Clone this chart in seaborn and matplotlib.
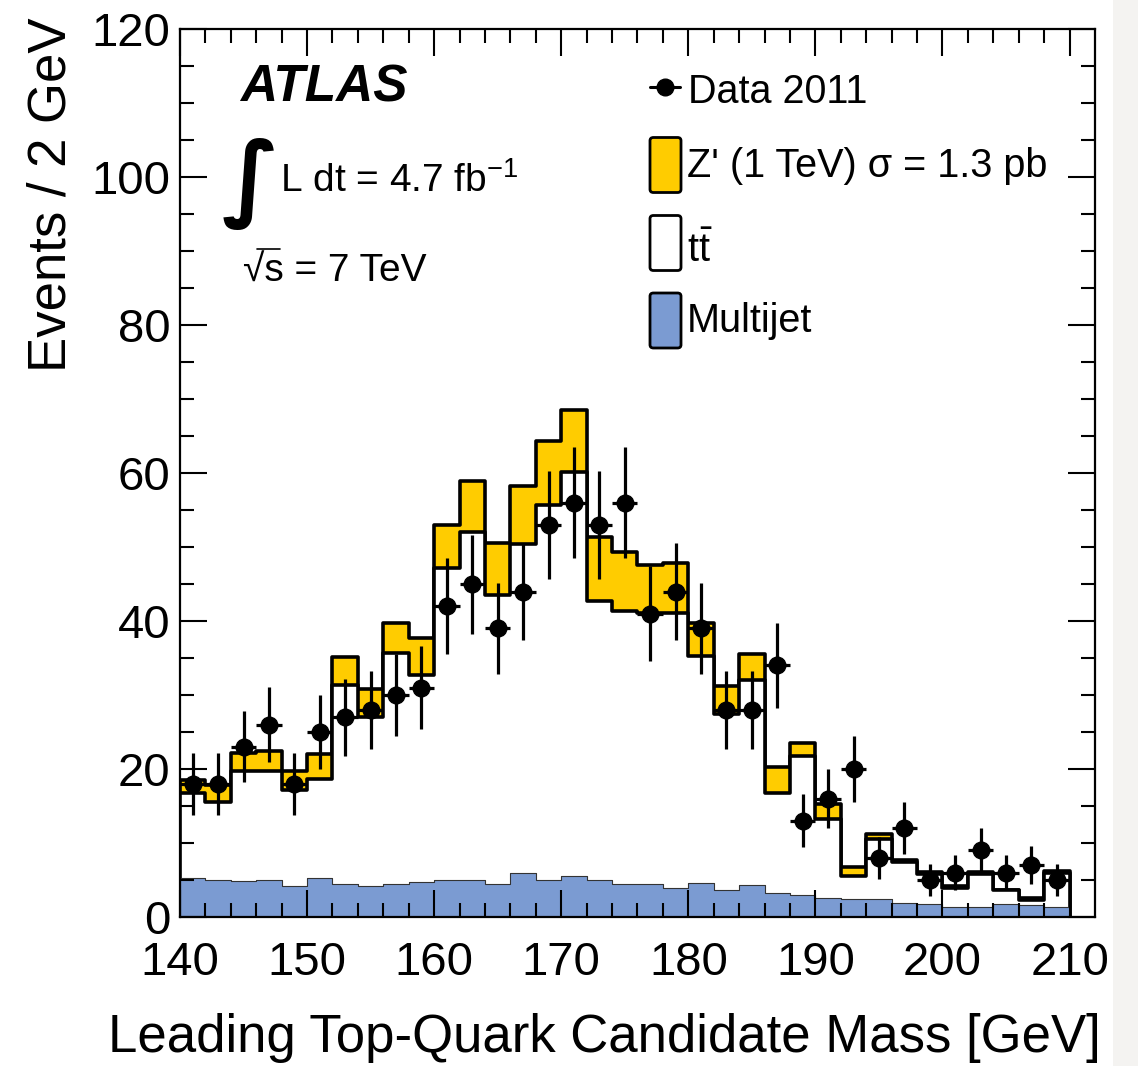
import numpy as np
import pandas as pd
import matplotlib
matplotlib.use("Agg")
import matplotlib.pyplot as plt
from matplotlib.patches import FancyBboxPatch, Rectangle
from matplotlib.lines import Line2D
import seaborn as sns

W, H = 1138, 1066

# bin edges of the 2 GeV histogram (140-210 GeV)
bin_edges = np.arange(140, 212, 2)
bin_centers = bin_edges[:-1] + 1

# stacked MC components (events per bin)
multijet = [5.3, 5.0, 4.9, 5.0, 4.2, 5.3, 4.4, 4.2, 4.5, 4.7,
            5.0, 5.0, 4.5, 5.9, 5.0, 5.6, 5.0, 4.5, 4.4, 3.9,
            4.6, 3.7, 4.3, 3.3, 3.0, 2.6, 2.4, 2.4, 1.9, 1.7,
            1.4, 1.4, 1.7, 1.6, 1.3]
ttbar = [11.5, 10.6, 14.8, 14.7, 13.0, 13.4, 26.9, 22.9, 31.2, 28.0,
         42.2, 47.0, 39.0, 44.5, 50.7, 54.5, 37.7, 36.8, 36.7, 37.2,
         30.7, 23.7, 27.8, 13.4, 18.8, 10.7, 3.2, 8.1, 5.6, 4.1,
         2.5, 4.4, 1.9, 0.7, 4.7]
zprime = [1.7, 2.2, 2.5, 2.7, 2.5, 3.4, 3.8, 3.7, 4.0, 5.0,
          5.8, 6.9, 7.0, 7.9, 8.7, 8.4, 8.7, 8.1, 6.5, 6.7,
          4.5, 3.8, 3.5, 3.6, 1.7, 2.0, 1.2, 0.7, 0.2, 0.3,
          0.3, 0.25, 0.1, 0.3, 0.2]

# data 2011 with statistical errors
data = [18, 18, 23, 26, 18, 25, 27, 28, 30, 31,
        42, 45, 39, 44, 53, 56, 53, 56, 41, 44,
        39, 28, 28, 34, 13, 16, 20, 8, 12, 5,
        6, 9, 6, 7, 5]
data_err = [4.2, 4.2, 4.8, 5.1, 4.2, 5.0, 5.2, 5.3, 5.5, 5.6,
            6.5, 6.7, 6.2, 6.6, 7.3, 7.5, 7.3, 7.5, 6.4, 6.6,
            6.2, 5.3, 5.3, 5.8, 3.6, 4.0, 4.5, 2.8, 3.5, 2.2,
            2.4, 3.0, 2.4, 2.6, 2.2]

YELLOW = "#ffcc00"
BLUE = "#7b9bd2"

sns.set_theme(style="ticks")
plt.rcParams["font.family"] = ["Liberation Sans", "DejaVu Sans"]
plt.rcParams["mathtext.fontset"] = "custom"
plt.rcParams["mathtext.rm"] = "Liberation Sans"
plt.rcParams["mathtext.it"] = "Liberation Sans:italic"
for key in ["text.color", "axes.labelcolor", "axes.edgecolor",
            "xtick.color", "ytick.color"]:
    plt.rcParams[key] = "black"

df = pd.DataFrame({"mass": bin_centers,
                   "multijet": multijet, "ttbar": ttbar, "zprime": zprime})
df["tt_stack"] = df["multijet"] + df["ttbar"]
df["total"] = df["tt_stack"] + df["zprime"]

fig = plt.figure(figsize=(W / 100, H / 100), dpi=100)
ax = fig.add_axes([180 / W, 1 - 917 / H, (1095 - 180) / W, (917 - 29.3) / H])

# stack drawn back to front: total (Z'), ttbar + multijet, multijet
hist_kws = dict(data=df, x="mass", binwidth=2, binrange=(140, 210),
                element="step", fill=True, alpha=1, ax=ax)
sns.histplot(weights="total", color=YELLOW, edgecolor="black", linewidth=2.6, **hist_kws)
sns.histplot(weights="tt_stack", color="white", edgecolor="black", linewidth=2.6, **hist_kws)
sns.histplot(weights="multijet", color=BLUE, edgecolor="#333333", linewidth=0.8, **hist_kws)

ax.errorbar(df["mass"], data, yerr=data_err, xerr=1, fmt="o", color="black",
            ms=12, elinewidth=2.3, capsize=0, zorder=5)

ax.set_xlim(140, 212)
ax.set_ylim(0, 120)
ax.set_xticks(np.arange(140, 211, 10))
ax.set_xticks(np.arange(140, 212, 2), minor=True)
ax.set_yticks(np.arange(0, 121, 20))
ax.set_yticks(np.arange(0, 121, 5), minor=True)
ax.set_axisbelow(False)
for s in ax.spines.values():
    s.set_visible(True)
    s.set_linewidth(1.6)
ax.tick_params(which="both", direction="in", top=True, right=True, width=1.5,
               colors="black")
ax.tick_params(which="major", length=19.5, labelsize=34, pad=7)
ax.tick_params(which="minor", length=10)
ax.tick_params(axis="x", which="major", pad=17)

ax.set_ylabel("Events / 2 GeV", fontsize=38, loc="top")
ax.yaxis.set_label_coords(-0.113, 1.013)
ax.set_xlabel("Leading Top-Quark Candidate Mass [GeV]", fontsize=38, loc="right")
ax.xaxis.set_label_coords(1.006, -0.108)


def px(x, y):
    return x / W, 1 - y / H


# ATLAS labels
fig.text(*px(240, 102), "ATLAS", fontsize=37, fontweight="bold", style="italic",
         va="baseline")
fig.text(*px(222, 184), "\u222b", fontsize=68, family="DejaVu Sans",
         fontweight="bold", va="center")
fig.text(*px(280, 192), r"L dt = 4.7 fb$^{\mathregular{-1}}$", fontsize=28, va="baseline")
fig.text(*px(243, 282), "\u221as = 7 TeV", fontsize=28, va="baseline")
fig.add_artist(Line2D([px(257, 0)[0], px(280, 0)[0]], [px(0, 249)[1]] * 2,
                      color="black", lw=1.2))

# legend
x0, x1 = px(650, 87)[0], px(680, 87)[0]
fig.add_artist(Line2D([x0, x1], [px(0, 87)[1]] * 2, color="black", lw=2.2))
fig.add_artist(Line2D([px(665, 87)[0]], [px(0, 87)[1]], marker="o", ms=12,
                      color="black", lw=0))
fig.text(*px(688, 102.7), "Data 2011", fontsize=28.5, va="baseline")

entries = [(165, YELLOW, "Z' (1 TeV) \u03c3 = 1.3 pb", 176.7),
           (243, "white", r"$\mathregular{t\bar{t}}$", 261.7),
           (320.5, BLUE, "Multijet", 331.7)]
for yc, col, lab, ybase in entries:
    bx, by = px(650, yc + 27.5)
    box = FancyBboxPatch((bx, by), 31 / W, 55 / H,
                         boxstyle="round,pad=0,rounding_size=0.003",
                         transform=fig.transFigure, facecolor=col,
                         edgecolor="black", linewidth=2)
    fig.add_artist(box)
    fig.text(*px(687, ybase), lab, fontsize=28.5, va="baseline")

# light paper edge on the right as in the screenshot
fig.add_artist(Rectangle(px(1113, 1066), 25 / W, 1, transform=fig.transFigure,
                         facecolor="#f4f3f1", edgecolor="none"))

fig.savefig("out.png", dpi=100)
